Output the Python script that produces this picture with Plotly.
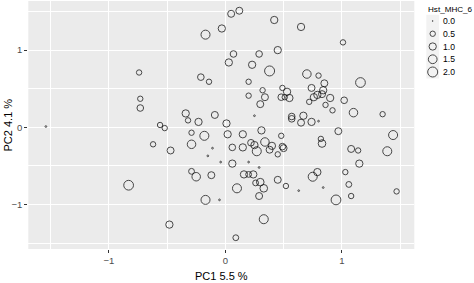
import numpy as np
import plotly.graph_objects as go

# ---------------- data ----------------
pc1 = [-1.54, -0.74, -0.73, -0.73, -0.62, -0.83, 0.05, 0.12, 0.42, -0.17,
       -0.03, 0.07, 0.03, 0.29, 0.45, 0.23, 0.38, -0.21, -0.14, 0.20,
       0.32, 0.20, 0.34, 0.30, 0.25, 0.49, 0.53, 0.48, 0.51, 0.55,
       -0.34, -0.32, -0.23, -0.09, 0.01, -0.56, -0.52, -0.29, -0.18, 0.02,
       0.15, 0.31, 0.48, 0.57, 0.57, 0.67, 0.65, 0.70, 0.65, 1.01,
       0.80, 0.85, 1.16, 0.74, 0.84, 0.83, 0.79, 0.76, 0.90, 0.72,
       1.02, 0.86, 0.92, 1.10, 1.35, 0.74, 0.80, 0.97, 1.44, 0.82,
       0.83, 0.49, 0.50, 0.45, 1.08, 1.14, 1.39, 1.15, 0.79, 0.75,
       1.03, 1.06, 0.52, 0.63, 0.84, 1.47, 1.08, 0.95, -0.47, -0.29,
       -0.11, -0.15, 0.06, 0.15, 0.22, 0.25, 0.27, 0.34, 0.38, 0.40,
       -0.04, 0.06, 0.20, 0.29, -0.29, -0.25, -0.12, 0.16, 0.20, 0.24,
       0.26, 0.30, 0.10, 0.33, 0.29, 0.45, -0.17, -0.05, -0.48, 0.33,
       0.09]
pc2 = [0.01, 0.71, 0.37, 0.25, -0.22, -0.75, 1.47, 1.51, 1.39, 1.20,
       1.28, 0.95, 0.84, 0.95, 1.00, 0.81, 0.73, 0.65, 0.59, 0.59,
       0.48, 0.41, 0.39, 0.30, 0.15, 0.51, 0.46, 0.39, 0.39, 0.38,
       0.18, 0.09, 0.07, 0.16, 0.05, 0.03, -0.01, -0.07, -0.11, -0.09,
       -0.09, -0.04, -0.11, 0.14, 0.11, 0.15, 0.06, 0.69, 1.30, 1.10,
       0.67, 0.57, 0.58, 0.51, 0.48, 0.43, 0.42, 0.39, 0.38, 0.33,
       0.35, 0.29, 0.22, 0.19, 0.17, 0.07, 0.08, -0.05, -0.10, -0.15,
       -0.21, -0.25, -0.27, -0.35, -0.28, -0.30, -0.31, -0.47, -0.58, -0.64,
       -0.58, -0.74, -0.76, -0.82, -0.78, -0.83, -0.89, -0.94, -0.30, -0.22,
       -0.27, -0.37, -0.26, -0.26, -0.20, -0.23, -0.31, -0.19, -0.29, -0.24,
       -0.45, -0.47, -0.45, -0.52, -0.57, -0.64, -0.62, -0.61, -0.61, -0.61,
       -0.72, -0.71, -0.79, -0.79, -0.89, -0.68, -0.94, -0.94, -1.26, -1.19,
       -1.43]
hst_mhc_6 = [0.02, 0.5, 0.5, 0.8, 0.5, 1.9, 0.9, 0.9, 1.0, 1.6,
             1.0, 0.8, 1.0, 0.8, 1.0, 1.0, 2.0, 0.8, 0.5, 0.5,
             0.5, 0.5, 0.9, 0.9, 0.02, 0.5, 1.0, 0.8, 0.5, 1.0,
             1.0, 0.5, 1.0, 0.9, 1.0, 0.5, 0.5, 0.5, 1.6, 1.0,
             1.0, 1.0, 0.5, 0.8, 0.8, 1.0, 0.9, 1.4, 1.0, 0.5,
             0.5, 0.9, 1.9, 0.9, 1.0, 0.9, 1.0, 1.0, 1.0, 0.5,
             0.8, 0.5, 0.5, 1.4, 0.5, 1.0, 0.02, 0.9, 1.6, 0.5,
             1.1, 0.8, 0.9, 0.5, 0.9, 0.5, 1.6, 1.0, 1.0, 1.6,
             0.5, 0.6, 0.5, 0.02, 0.02, 0.5, 0.5, 1.9, 0.9, 1.4,
             0.02, 0.02, 0.8, 1.0, 0.8, 1.0, 1.6, 1.4, 0.9, 1.0,
             0.02, 1.0, 0.02, 0.02, 0.6, 1.4, 0.9, 1.0, 0.6, 1.0,
             0.6, 1.1, 1.6, 1.1, 0.9, 0.9, 1.6, 0.02, 1.0, 1.6,
             0.6]

legend_values = [0.0, 0.5, 1.0, 1.5, 2.0]
legend_labels = ["0.0", "0.5", "1.0", "1.5", "2.0"]
legend_title = "Hst_MHC_6"
x_ticks = [-1, 0, 1]
y_ticks = [-1, 0, 1]
x_title = "PC1 5.5 %"
y_title = "PC2 4.1 %"

# ---------------- styling / layout ----------------
W, H = 474, 283
PL, PR, PT, PB = 28.3, 414.3, 1.0, 249.0   # panel edges in px
FONT = "Liberation Sans, Arial, Helvetica, sans-serif"


def size_px(v):
    return 0.8 + 9.2 * np.sqrt(np.asarray(v, dtype=float) / 2.0)


fig = go.Figure()

fig.add_trace(go.Scatter(
    x=pc1, y=pc2, mode="markers", showlegend=False, hoverinfo="skip",
    marker=dict(size=size_px(hst_mhc_6), color="rgba(0,0,0,0)",
                line=dict(color="#000000", width=1)),
))

# legend drawn in an auxiliary pixel-coordinate subplot
LEG_X0 = 0.875 * W
key_cx, key_w = 432.7, 12.8
leg_top, leg_step = 21.0, 12.75
leg_y = [leg_top + i * leg_step for i in range(len(legend_values))]

fig.add_trace(go.Scatter(
    x=[key_cx] * len(legend_values), y=leg_y, mode="markers",
    xaxis="x2", yaxis="y2", showlegend=False, hoverinfo="skip",
    marker=dict(size=size_px(legend_values), color="rgba(0,0,0,0)",
                line=dict(color="#000000", width=1)),
))

shapes = [
    dict(type="rect", xref="x domain", yref="y domain", x0=0, x1=1, y0=0, y1=1,
         fillcolor="#ebebeb", line=dict(width=0), layer="below"),
    dict(type="rect", xref="x2", yref="y2",
         x0=key_cx - key_w / 2, x1=key_cx + key_w / 2,
         y0=leg_y[0] - leg_step / 2, y1=leg_y[-1] + leg_step / 2,
         fillcolor="#f2f2f2", line=dict(width=0), layer="below"),
]

annotations = []
for yy, lab in zip(leg_y, legend_labels):
    annotations.append(dict(x=441.0, y=yy, xref="x2", yref="y2", text=lab,
                            showarrow=False, xanchor="left", yanchor="middle",
                            font=dict(size=8.6, color="#000000", family=FONT)))
annotations.append(dict(x=426.3, y=9.0, xref="x2", yref="y2", text=legend_title,
                        showarrow=False, xanchor="left", yanchor="middle",
                        font=dict(size=8.1, color="#000000", family=FONT)))
annotations.append(dict(x=(PL + PR) / 2 / W, y=1 - 276.0 / H, xref="paper", yref="paper",
                        text=x_title, showarrow=False, xanchor="center", yanchor="middle",
                        font=dict(size=11, color="#000000", family=FONT)))
annotations.append(dict(x=7.5 / W, y=1 - (PT + PB) / 2 / H, xref="paper", yref="paper",
                        text=y_title, showarrow=False, xanchor="center", yanchor="middle",
                        textangle=-90,
                        font=dict(size=11, color="#000000", family=FONT)))

axis_common = dict(
    showline=False, zeroline=False, showgrid=True, gridcolor="#ffffff", gridwidth=1.1,
    ticks="outside", ticklen=3, tickwidth=1, tickcolor="#333333",
    tickfont=dict(size=9.5, color="#4d4d4d", family=FONT),
    minor=dict(dtick=0.5, tick0=0, showgrid=True, gridcolor="#ffffff", gridwidth=0.5,
               ticks=""),
    tickmode="array", fixedrange=True,
)

fig.update_layout(
    width=W, height=H, autosize=False,
    margin=dict(l=0, r=0, t=0, b=0, pad=0),
    paper_bgcolor="#ffffff", plot_bgcolor="rgba(0,0,0,0)",
    font=dict(family=FONT),
    xaxis=dict(domain=[PL / W, PR / W], range=[-1.691, 1.622], tickvals=x_ticks,
               anchor="y", **axis_common),
    yaxis=dict(domain=[1 - PB / H, 1 - PT / H], range=[-1.576, 1.636], tickvals=y_ticks,
               anchor="x", **axis_common),
    xaxis2=dict(domain=[LEG_X0 / W, 1], range=[LEG_X0, W], visible=False,
                anchor="y2", fixedrange=True),
    yaxis2=dict(domain=[0, 1], range=[H, 0], visible=False, anchor="x2", fixedrange=True),
    shapes=shapes, annotations=annotations, showlegend=False,
)

fig.write_html("out.html")
